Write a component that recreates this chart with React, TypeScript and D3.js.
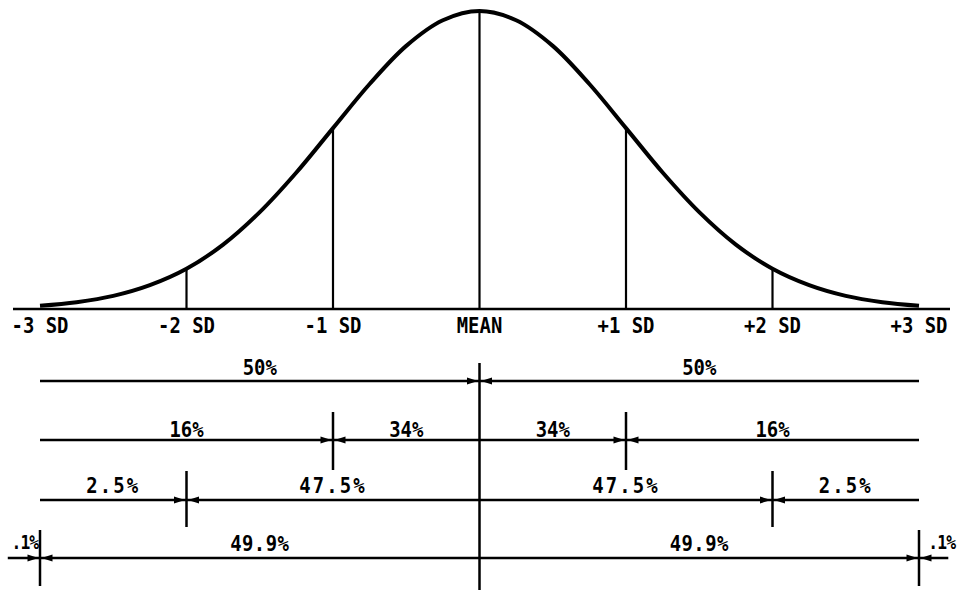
import React from 'react';
import * as d3 from 'd3';

// SD positions along the axis and their labels
const sdTicks = [-3, -2, -1, 0, 1, 2, 3];
const sdLabels = ['-3 SD', '-2 SD', '-1 SD', 'MEAN', '+1 SD', '+2 SD', '+3 SD'];

// curve heights (relative to peak), every quarter SD
const curveX = [
  -3, -2.75, -2.5, -2.25, -2, -1.75, -1.5, -1.25, -1, -0.75, -0.5, -0.25, 0,
  0.25, 0.5, 0.75, 1, 1.25, 1.5, 1.75, 2, 2.25, 2.5, 2.75, 3,
];
const curveH = [
  0.011, 0.023, 0.044, 0.080, 0.135, 0.216, 0.325, 0.458, 0.607, 0.755, 0.883, 0.969, 1,
  0.969, 0.883, 0.755, 0.607, 0.458, 0.325, 0.216, 0.135, 0.080, 0.044, 0.023, 0.011,
];

// bracket rows: break points (in SD) and the share written over each span
const row1Breaks = [-3, 0, 3];
const row1Labels = ['50%', '50%'];
const row2Breaks = [-3, -1, 0, 1, 3];
const row2Labels = ['16%', '34%', '34%', '16%'];
const row3Breaks = [-3, -2, 0, 2, 3];
const row3Labels = ['2.5%', '47.5%', '47.5%', '2.5%'];
const row4Breaks = [-3.22, -3, 0, 3, 3.2];
const row4Labels = ['.1%', '49.9%', '49.9%', '.1%'];

// where the arrows point in each row
const row1Arrows = [0];
const row2Arrows = [-1, 1];
const row3Arrows = [-2, 2];
const row4Arrows = [-3, 3];

const W = 957;
const H = 590;
const FONT = '"DejaVu Sans Mono", monospace';

// narrow typewriter-ish label: monospace squeezed horizontally
function Label({ x, y, size, text, ls = 0 }: { x: number; y: number; size: number; text: string; ls?: number }) {
  return (
    <g transform={`translate(${x},${y}) scale(0.86,1)`}>
      <text textAnchor="middle" fontSize={size} fontWeight="bold" letterSpacing={ls}>
        {text}
      </text>
    </g>
  );
}

export default function App() {
  const x = d3.scaleLinear().domain([-3, 3]).range([40, 919]);
  const y = d3.scaleLinear().domain([0, 1]).range([309, 11]);

  const line = d3
    .line<number>()
    .x((_, i) => x(curveX[i]))
    .y((d) => y(d))
    .curve(d3.curveCatmullRom);

  const rows = [
    { breaks: row1Breaks, labels: row1Labels, arrows: row1Arrows, y: 381, tick: null, ls: 0, dy: 6 },
    { breaks: row2Breaks, labels: row2Labels, arrows: row2Arrows, y: 440, tick: [412, 470], ls: 0, dy: 3 },
    { breaks: row3Breaks, labels: row3Labels, arrows: row3Arrows, y: 500, tick: [471, 527], ls: 2.5, dy: 7 },
    { breaks: row4Breaks, labels: row4Labels, arrows: row4Arrows, y: 558, tick: [530, 586], ls: 0.5, dy: 7 },
  ];

  const arrow = (px: number, py: number, dir: number, key: string) => {
    // dir = 1 points right, -1 points left; tip sits at px
    const tip = px - dir * 1.5;
    const back = tip - dir * 11;
    return (
      <path
        key={key}
        d={`M${tip},${py} L${back},${py - 3.5} L${back},${py + 3.5} Z`}
        fill="#000"
      />
    );
  };

  return (
    <svg
      width={W}
      height={H}
      style={{ position: 'absolute', left: 0, top: 0, background: '#fff' }}
      fontFamily={FONT}
    >
      {/* baseline */}
      <line x1={13} x2={950} y1={y(0)} y2={y(0)} stroke="#000" strokeWidth={2.5} />

      {/* SD verticals under the curve */}
      {sdTicks.filter((t) => Math.abs(t) < 3).map((t) => {
        const i = curveX.indexOf(t);
        return (
          <line
            key={'v' + t}
            x1={x(t)}
            x2={x(t)}
            y1={y(curveH[i])}
            y2={y(0)}
            stroke="#000"
            strokeWidth={2.2}
          />
        );
      })}

      {/* curve */}
      <path d={line(curveH) || ''} fill="none" stroke="#000" strokeWidth={4} />

      {/* SD labels */}
      {sdTicks.map((t, i) => (
        <Label key={'l' + t} x={x(t)} y={333} size={22} text={sdLabels[i]} />
      ))}

      {/* mean vertical running through bracket rows */}
      <line x1={x(0)} x2={x(0)} y1={363} y2={H} stroke="#000" strokeWidth={2.5} />

      {rows.map((r, ri) => {
        const x0 = x(r.breaks[0]);
        const x1 = x(r.breaks[r.breaks.length - 1]);
        return (
          <g key={'r' + ri}>
            <line x1={x0} x2={x1} y1={r.y} y2={r.y} stroke="#000" strokeWidth={2.5} />
            {r.tick &&
              r.arrows.map((a) => (
                <line
                  key={'t' + a}
                  x1={x(a)}
                  x2={x(a)}
                  y1={r.tick![0]}
                  y2={r.tick![1]}
                  stroke="#000"
                  strokeWidth={2.5}
                />
              ))}
            {r.arrows.map((a) => [
              arrow(x(a), r.y, 1, 'ar' + a),
              arrow(x(a), r.y, -1, 'al' + a),
            ])}
            {r.labels.map((lab, li) => {
              const cx = (x(r.breaks[li]) + x(r.breaks[li + 1])) / 2;
              const small = lab.startsWith('.');
              return (
                <Label
                  key={'p' + li}
                  x={cx + (small ? (li === 0 ? 1 : 8) : 0)}
                  y={small ? r.y - 9 : r.y - r.dy}
                  size={small ? 19 : 22}
                  text={lab}
                  ls={small ? -1 : r.ls}
                />
              );
            })}
          </g>
        );
      })}
    </svg>
  );
}
